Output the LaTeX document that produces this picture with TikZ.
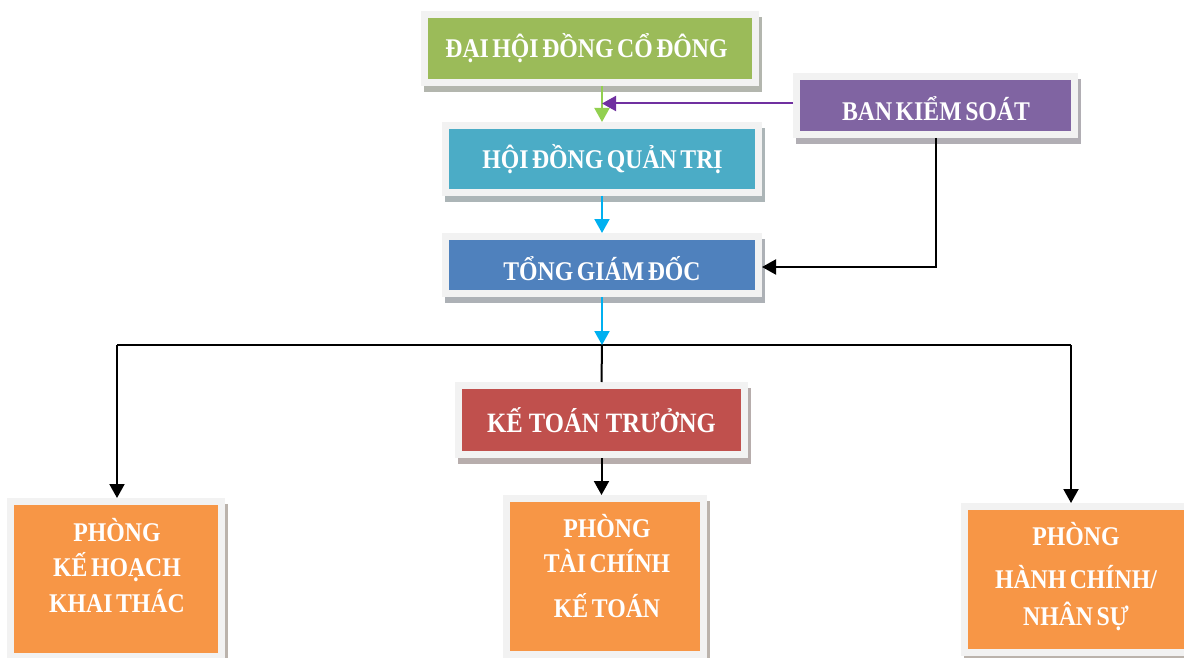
\documentclass[tikz,border=0pt]{standalone}
\usepackage{fontspec}
\setmainfont{Liberation Serif}[FakeStretch=0.88,WordSpace=0.6]
\newfontfamily\ktfont{Liberation Serif}[FakeStretch=0.88]
\usetikzlibrary{arrows.meta,backgrounds,calc}
\definecolor{cgreen}{HTML}{9BBB59}
\definecolor{cpurple}{HTML}{8064A2}
\definecolor{ccyanbox}{HTML}{4BACC6}
\definecolor{cblue}{HTML}{4F81BD}
\definecolor{cred}{HTML}{C0504D}
\definecolor{corange}{HTML}{F79646}
\definecolor{framegray}{HTML}{F2F2F2}
\definecolor{lgreen}{HTML}{92D050}
\definecolor{lpurple}{HTML}{7030A0}
\definecolor{lcyan}{HTML}{00B0F0}
\tikzset{
  orgbox/.style={draw=framegray, line width=7pt, fill=#1, inner sep=0pt, outer sep=3.5pt},
  shadowof/.style={fill=#1!25!black!35},
  lbl/.style={anchor=base, text=white, font=\fontsize{27}{30}\selectfont\bfseries, inner sep=0pt},
  conn/.style={line width=2pt, -{Triangle[width=15pt,length=14pt]}},
  plain/.style={line width=2pt},
}
\begin{document}
\begin{tikzpicture}[x=1pt,y=-1pt]
\useasboundingbox (0,0) rectangle (1184,658);
% boxes
\node[orgbox=cgreen, minimum width=331pt, minimum height=68pt] (dh) at (590,48.5) {};
\node[orgbox=cpurple, minimum width=278pt, minimum height=58pt] (bks) at (935.5,105.5) {};
\node[orgbox=ccyanbox, minimum width=313pt, minimum height=67pt] (hd) at (602,159) {};
\node[orgbox=cblue, minimum width=313pt, minimum height=57pt] (tg) at (602,265) {};
\node[orgbox=cred, minimum width=286pt, minimum height=69pt] (kt) at (601.5,420) {};
\node[orgbox=corange, minimum width=211pt, minimum height=155pt] (pk) at (116,579) {};
\node[orgbox=corange, minimum width=197pt, minimum height=156pt] (ptc) at (605,576.5) {};
\node[orgbox=corange, minimum width=223pt, minimum height=146pt] (ph) at (1076,579.5) {};
% shadows
\begin{scope}[on background layer]
\foreach \n/\c in {dh/cgreen,bks/cpurple,hd/ccyanbox,tg/cblue,kt/cred,pk/corange,ptc/corange,ph/corange}{
  \fill[shadowof=\c] ($(\n.south west)+(3,6)$) rectangle ($(\n.north east)+(3,6)$);
}
\end{scope}
% labels
\node[lbl] (tdh) at (586.5,58) {ĐẠI HỘI ĐỒNG CỔ ĐÔNG};
\node[lbl] (tbks) at (936,121) {BAN KIỂM SOÁT};
\node[lbl] (thd) at (602.5,169) {HỘI ĐỒNG QUẢN TRỊ};
\node[lbl] (ttg) at (602,280) {TỔNG GIÁM ĐỐC};
\node[lbl, font=\fontsize{28}{30}\ktfont\bfseries] (tkt) at (601.5,432) {KẾ TOÁN TRƯỞNG};
\node[lbl] (tpk1) at (117,541) {PHÒNG};
\node[lbl] (tpk2) at (117,576.5) {KẾ HOẠCH};
\node[lbl] (tpk3) at (117,612) {KHAI THÁC};
\node[lbl] (tpt1) at (607,537) {PHÒNG};
\node[lbl] (tpt2) at (607,572) {TÀI CHÍNH};
\node[lbl] (tpt3) at (607,617) {KẾ TOÁN};
\node[lbl] (tph1) at (1076,545) {PHÒNG};
\node[lbl] (tph2) at (1076,588) {HÀNH CHÍNH/};
\node[lbl] (tph3) at (1076,625) {NHÂN SỰ};
% bus coordinates
\coordinate (bus) at (602,345);
\coordinate (busL) at (117,345);
\coordinate (busR) at (1071,345);
% connectors
\draw[conn, draw=lgreen] (dh.south -| hd.north) -- (hd.north);
\draw[conn, draw=lpurple] ([yshift=2pt]bks.west) -- ([yshift=2pt]bks.west -| hd.north);
\draw[conn] (bks.south) |- ([yshift=-2pt]tg.east);
\draw[conn, draw=lcyan] (hd.south) -- (tg.north);
\draw[plain] (busL) -- (busR);
\draw[plain] (bus) -- (kt.north);
\draw[conn, draw=lcyan] (tg.south) -- (bus);
\draw[conn] (busL) -- (busL |- pk.north);
\draw[conn] (busR) -- (busR |- ph.north);
\draw[conn] (kt.south) -- (kt.south |- ptc.north);
\end{tikzpicture}
\end{document}
